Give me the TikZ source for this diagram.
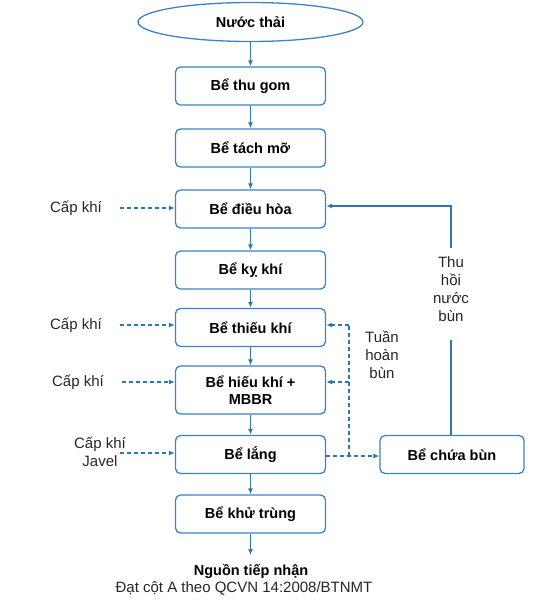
\documentclass[tikz,border=0pt]{standalone}
\usepackage{fontspec}
\setmainfont{Liberation Sans}
\usetikzlibrary{arrows.meta,shapes.geometric}
\definecolor{lblue}{RGB}{46,117,182}
\definecolor{bblue}{RGB}{60,130,200}
\begin{document}
\begin{tikzpicture}[x=1pt,y=-1pt,
  tank/.style={draw=bblue,line width=1.3pt,rounded corners=5pt,minimum width=150pt,minimum height=38pt,inner sep=0pt,align=center,font=\fontsize{14.5}{17}\selectfont\bfseries},
  lbl/.style={inner sep=0pt,align=center,font=\fontsize{15}{18}\selectfont,text=black!85},
  flow/.style={draw=lblue,line width=1.3pt,-{Latex[length=6pt,width=5pt]}},
  plain/.style={draw=lblue,line width=1.3pt},
  dflow/.style={draw=lblue,line width=1.2pt,dash pattern=on 4pt off 3pt,-{Latex[length=6pt,width=5pt]}},
  dplain/.style={draw=lblue,line width=1.2pt,dash pattern=on 4pt off 3pt}]
\useasboundingbox (0,0) rectangle (559,613);
\node[ellipse,draw=bblue,line width=1.3pt,minimum width=225pt,minimum height=39pt,inner sep=0pt,font=\fontsize{14.5}{17}\selectfont\bfseries] (nt) at (250.5,22) {Nước thải};
\node[tank] (b1) at (250.5,86) {Bể thu gom};
\node[tank] (b2) at (250.5,148) {Bể tách mỡ};
\node[tank] (b3) at (250.5,209) {Bể điều hòa};
\node[tank] (b4) at (250.5,270) {Bể kỵ khí};
\node[tank] (b5) at (250.5,327.5) {Bể thiếu khí};
\node[tank,minimum height=48pt] (b6) at (250.5,390) {Bể hiếu khí +\\MBBR};
\node[tank] (b7) at (250.5,454.5) {Bể lắng};
\node[tank] (b8) at (250.5,514) {Bể khử trùng};
\node[tank,minimum width=144pt] (sb) at (452,454.5) {Bể chứa bùn};
\coordinate (out) at (250.5,555);
\node[lbl,font=\fontsize{14.5}{17}\selectfont\bfseries,text=black] (ng) at (251,571) {Nguồn tiếp nhận};
\node[lbl] (dat) at (244,588) {Đạt cột A theo QCVN 14:2008/BTNMT};
% main flow
\draw[flow] (nt) -- (b1);
\draw[flow] (b1) -- (b2);
\draw[flow] (b2) -- (b3);
\draw[flow] (b3) -- (b4);
\draw[flow] (b4) -- (b5);
\draw[flow] (b5) -- (b6);
\draw[flow] (b6) -- (b7);
\draw[flow] (b7) -- (b8);
\draw[flow] (b8) -- (out);
% air supply
\node[lbl] (c1) at (76,208) {Cấp khí};
\node[lbl] (c2) at (76,325) {Cấp khí};
\node[lbl] (c3) at (78,382) {Cấp khí};
\node[lbl] (c4) at (100,452) {Cấp khí\\Javel};
\coordinate (s1) at (120,208);
\coordinate (s2) at (120,325);
\coordinate (s3) at (122,382);
\coordinate (s4) at (120,453);
\draw[dflow] (s1) -- (b3.west |- s1);
\draw[dflow] (s2) -- (b5.west |- s2);
\draw[dflow] (s3) -- (b6.west |- s3);
\draw[dflow] (s4) -- (b7.west |- s4);
% sludge recirculation
\coordinate (tj) at (349,456);
\coordinate (t1) at (349,325);
\coordinate (t2) at (349,382);
\draw[dflow] (b7.east |- tj) -- (sb.west |- tj);
\draw[dplain] (tj) -- (t1);
\draw[dflow] (t1) -- (b5.east |- t1);
\draw[dflow] (t2) -- (b6.east |- t2);
\node[lbl] (th) at (382,355) {Tuần\\hoàn\\bùn};
% sludge water return
\coordinate (rA) at (451,248);
\coordinate (rB) at (451,340);
\coordinate (rC) at (451,206);
\draw[plain] (sb.north -| rB) -- (rB);
\draw[flow] (rA) -- (rC) -- (b3.east |- rC);
\node[lbl] (tn) at (451,289) {Thu\\hồi\\nước\\bùn};
\end{tikzpicture}
\end{document}
